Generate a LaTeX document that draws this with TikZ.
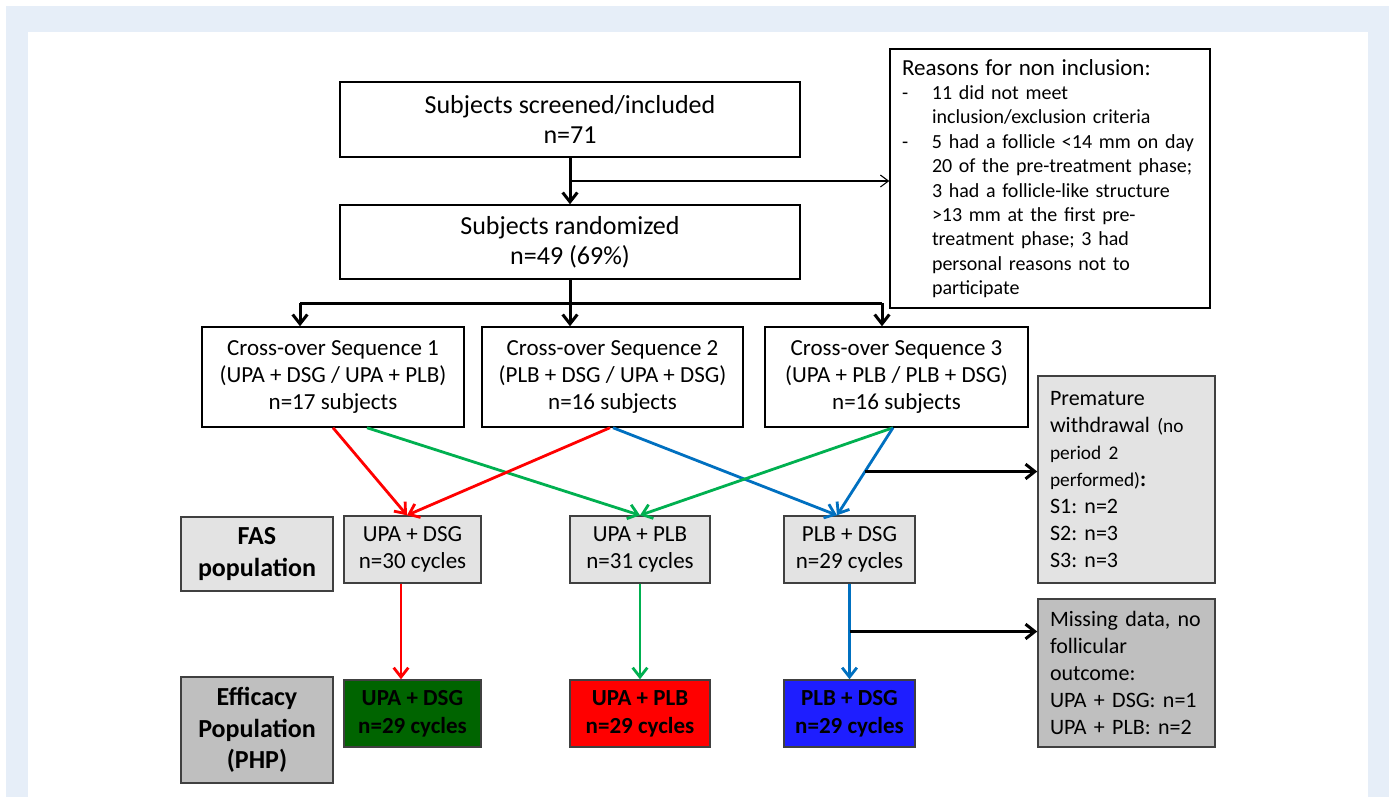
\documentclass[tikz,border=0pt]{standalone}
\usepackage{fontspec}
\setmainfont{Carlito}
\usetikzlibrary{arrows.meta,calc}
\definecolor{bgblue}{HTML}{E6EEF8}
\definecolor{lgray}{HTML}{E3E3E3}
\definecolor{dgray}{HTML}{BFBFBF}
\definecolor{bordergray}{HTML}{404040}
\definecolor{arrred}{HTML}{FF0000}
\definecolor{arrgreen}{HTML}{00B050}
\definecolor{arrblue}{HTML}{0070C0}
\definecolor{boxgreen}{HTML}{006400}
\definecolor{boxred}{HTML}{FF0000}
\definecolor{boxblue}{HTML}{1E1EFF}
\frenchspacing
\begin{document}
\frenchspacing
\begin{tikzpicture}[x=0.75pt,y=-0.75pt,
  sz/.style 2 args={minimum width=#1*0.75pt, minimum height=#2*0.75pt},
  wbox/.style={draw=black, line width=1.1pt, fill=white, inner sep=0pt, align=center},
  gbox/.style={draw=bordergray, line width=1.1pt, fill=lgray, inner sep=0pt, align=center},
  dbox/.style={draw=bordergray, line width=1.1pt, fill=dgray, inner sep=0pt, align=center},
  cbox/.style={draw=bordergray, line width=1.1pt, fill=#1, inner sep=0pt, align=center,
    font=\bfseries\fontsize{17.25pt}{21pt}\selectfont},
  bigtxt/.style={font=\fontsize{19.5pt}{22.5pt}\selectfont},
  seqtxt/.style={font=\fontsize{17.25pt}{20.25pt}\selectfont},
  poptxt/.style={font=\bfseries\fontsize{19.5pt}{23.5pt}\selectfont},
  sidetxt/.style={font=\fontsize{16.5pt}{20.25pt}\selectfont, align=left, inner xsep=9pt, text width=114.75pt},
  blk/.style={line width=2.25pt, -{Straight Barb[length=7pt,width=11pt]}},
  blkline/.style={line width=2.25pt},
  thinarr/.style={line width=0.8pt, -{Straight Barb[length=6pt,width=9pt]}},
  carr/.style={line width=2.1pt, draw=#1, -{Straight Barb[length=7pt,width=11pt]}}
]
\useasboundingbox (0,0) rectangle (1389,797);
\fill[white] (0,0) rectangle (1389,797);
\fill[bgblue] (6,6) rectangle (1389,797);
\fill[white] (28,32) rectangle (1368,797);

% top boxes
\node[wbox, sz={460}{75}, bigtxt] (top) at (570,119.5) {Subjects screened/included\\n=71};
\node[wbox, sz={460}{74}, bigtxt] (rand) at (570,242) {Subjects randomized\\n=49 (69\%)};

% reasons
\node[wbox, sz={320}{259}, align=left, inner xsep=9pt, text width=222pt,
  font=\fontsize{15pt}{18.3pt}\selectfont] (reasons) at (1050,178.5)
  {{\fontsize{17.25pt}{18.3pt}\selectfont Reasons for non inclusion:}\\
   \makebox[22.5pt][l]{-}11 did not meet\\
   \hspace*{22.5pt}inclusion/exclusion criteria\\
   \makebox[22.5pt][l]{-}5 had a follicle <14 mm on day\\
   \hspace*{22.5pt}20 of the pre-treatment phase;\\
   \hspace*{22.5pt}3 had a follicle-like structure\\
   \hspace*{22.5pt}>13 mm at the first pre-\\
   \hspace*{22.5pt}treatment phase; 3 had\\
   \hspace*{22.5pt}personal reasons not to\\
   \hspace*{22.5pt}participate};

% sequences
\node[wbox, sz={262}{100}, seqtxt] (seq1) at (333,377) {Cross-over Sequence 1\\(UPA + DSG / UPA + PLB)\\n=17 subjects};
\node[wbox, sz={261}{100}, seqtxt] (seq2) at (612.5,377) {Cross-over Sequence 2\\(PLB + DSG / UPA + DSG)\\n=16 subjects};
\node[wbox, sz={263}{100}, seqtxt] (seq3) at (896.5,377) {Cross-over Sequence 3\\(UPA + PLB / PLB + DSG)\\n=16 subjects};

% population labels
\node[gbox, sz={152}{74}, poptxt] (fas) at (257,554) {FAS\\population};
\node[dbox, sz={152}{106}, poptxt] (eff) at (257,730) {Efficacy\\Population\\(PHP)};

% FAS boxes
\node[gbox, sz={137}{67}, seqtxt] (g1) at (412.5,549.5) {UPA + DSG\\n=30 cycles};
\node[gbox, sz={140}{67}, seqtxt] (g2) at (640,549.5) {UPA + PLB\\n=31 cycles};
\node[gbox, sz={131}{67}, seqtxt] (g3) at (849.5,549.5) {PLB + DSG\\n=29 cycles};

% efficacy boxes
\node[cbox=boxgreen, sz={137}{67}] (c1) at (412.5,713.5) {UPA + DSG\\n=29 cycles};
\node[cbox=boxred, sz={140}{67}] (c2) at (640,713.5) {UPA + PLB\\n=29 cycles};
\node[cbox=boxblue, sz={131}{67}] (c3) at (849.5,713.5) {PLB + DSG\\n=29 cycles};

% side boxes
\node[gbox, sz={177}{207}, sidetxt] (prem) at (1126.5,479.5)
  {Premature\\
   withdrawal {\fontsize{14.5pt}{20.25pt}\selectfont (no}\\
   {\fontsize{14.5pt}{20.25pt}\selectfont period 2}\\
   {\fontsize{14.5pt}{20.25pt}\selectfont performed)}\textbf{:}\\
   S1: n=2\\
   S2: n=3\\
   S3: n=3};
\node[dbox, sz={177}{148}, sidetxt] (miss) at (1126.5,673)
  {Missing data, no\\
   follicular\\
   outcome:\\
   UPA + DSG: n=1\\
   UPA + PLB: n=2};

% black connectors
\draw[blk] (top.south) -- (rand.north);
\coordinate (br) at ($(top.south)!0.5!(rand.north)$);
\draw[thinarr] (br) -- (br -| reasons.west);
\coordinate (j1) at (300,303);
\coordinate (j3) at (882,303);
\draw[blkline] (j1) -- (j3);
\draw[blk] (rand.south) -- (rand.south |- seq2.north);
\draw[blk] (j1) -- (j1 |- seq1.north);
\draw[blk] (j3) -- (j3 |- seq3.north);

% coloured connectors
\coordinate (s1r) at (seq1.south);
\coordinate (s1g) at ($(seq1.south)+(34,0)$);
\coordinate (s2r) at ($(seq2.south)+(-2.5,0)$);
\coordinate (s2b) at ($(seq2.south)+(0.5,0)$);
\coordinate (s3) at ($(seq3.south)+(-3.5,0)$);
\coordinate (t1) at ($(g1.north)+(-5.5,0)$);
\coordinate (t3) at ($(g3.north)+(-12.5,0)$);
\draw[carr=arrred] (s1r) -- (t1);
\draw[carr=arrgreen] (s1g) -- (g2.north);
\draw[carr=arrred] (s2r) -- (t1);
\draw[carr=arrblue] (s2b) -- (t3);
\draw[carr=arrgreen] (s3) -- (g2.north);
\draw[carr=arrblue] (s3) -- (t3);

\coordinate (w) at ($(s3)!0.5!(t3)$);
\draw[blk] (w) -- (w -| prem.west);

\coordinate (v1) at ($(g1.south)+(-11.5,0)$);
\draw[carr=arrred] (v1) -- (v1 |- c1.north);
\draw[carr=arrgreen] (g2.south) -- (c2.north);
\draw[carr=arrblue] (g3.south) -- (c3.north);
\coordinate (m) at ($(g3.south)!0.5!(c3.north)$);
\draw[blk] (m) -- (m -| miss.west);
\end{tikzpicture}
\end{document}
